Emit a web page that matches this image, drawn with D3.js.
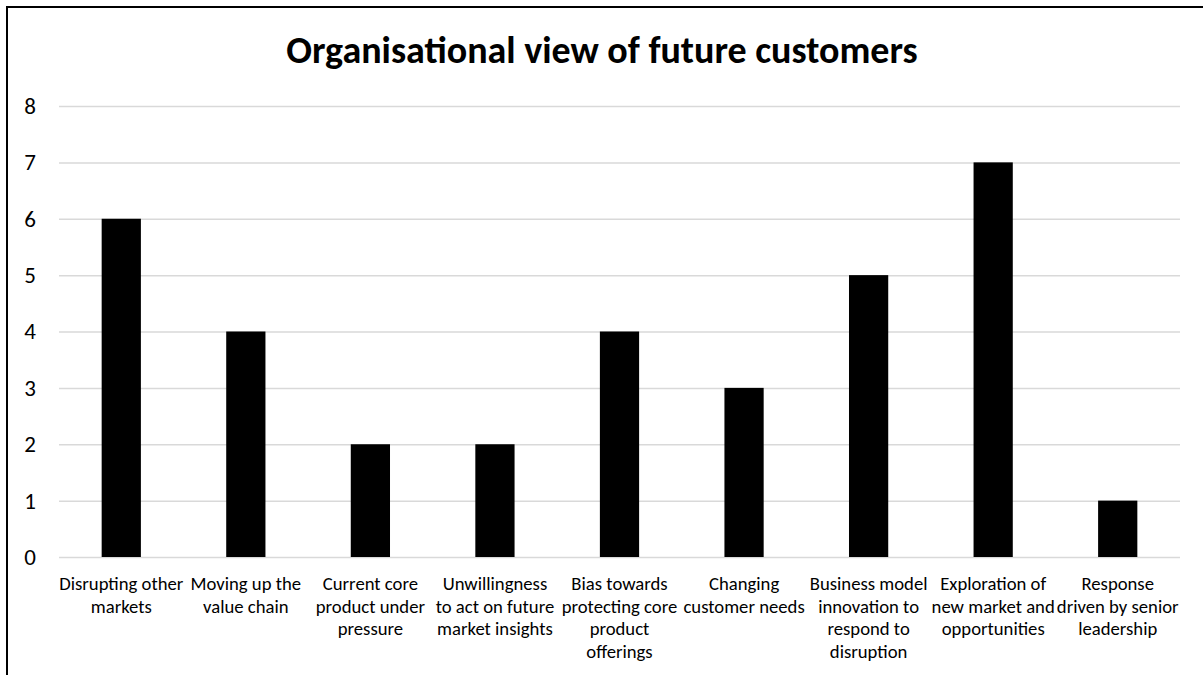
<!DOCTYPE html>
<html>
<head>
<meta charset="utf-8">
<script src="https://cdn.jsdelivr.net/npm/d3@7"></script>
<style>
  html, body { margin: 0; padding: 0; background: #fff; }
  svg { display: block; }
  text { font-family: Carlito, Calibri, Lato, sans-serif; fill: #000; }
</style>
</head>
<body>
<svg id="chart" width="1203" height="675"></svg>
<script>
// Categories (line breaks mark where each axis label wraps)
const categories = [
  "Disrupting other\nmarkets",
  "Moving up the\nvalue chain",
  "Current core\nproduct under\npressure",
  "Unwillingness\nto act on future\nmarket insights",
  "Bias towards\nprotecting core\nproduct\nofferings",
  "Changing\ncustomer needs",
  "Business model\ninnovation to\nrespond to\ndisruption",
  "Exploration of\nnew market and\nopportunities",
  "Response\ndriven by senior\nleadership"
];
const values = [6, 4, 2, 2, 4, 3, 5, 7, 1];
const yTicks = [0, 1, 2, 3, 4, 5, 6, 7, 8];
const title = "Organisational view of future customers";

const FONT = "Carlito, Calibri, Lato, sans-serif";
const svg = d3.select("#chart");
const W = 1203, H = 675;
const plot = { left: 59, right: 1180, top: 106, bottom: 557 };

// chart frame (extends past the right and bottom edges)
svg.append("rect")
  .attr("x", 7).attr("y", 7)
  .attr("width", W + 20).attr("height", H + 20)
  .attr("fill", "#fff").attr("stroke", "#000").attr("stroke-width", 2);

svg.append("text")
  .attr("x", 602).attr("y", 63)
  .attr("text-anchor", "middle")
  .attr("font-size", 38).attr("font-weight", "bold")
  .text(title);

const x = d3.scaleBand().domain(d3.range(categories.length))
  .range([plot.left, plot.right]).padding(0);
const y = d3.scaleLinear().domain([0, 8]).range([plot.bottom, plot.top]);

// gridlines + value labels
const yAxis = d3.axisLeft(y).tickValues(yTicks)
  .tickSize(-(plot.right - plot.left)).tickPadding(23);
const gy = svg.append("g").attr("transform", `translate(${plot.left},0)`).call(yAxis);
gy.select(".domain").remove();
gy.selectAll(".tick line").attr("stroke", "#d9d9d9").attr("stroke-width", 1.5);
gy.selectAll(".tick text")
  .attr("font-size", 23).attr("font-family", FONT)
  .attr("fill", "#000");

// bars
const barW = x.bandwidth() * 0.315;
svg.append("g").selectAll("rect").data(values).join("rect")
  .attr("x", (d, i) => x(i) + (x.bandwidth() - barW) / 2)
  .attr("y", d => y(d))
  .attr("width", barW)
  .attr("height", d => y(0) - y(d))
  .attr("fill", "#000");

// category labels
const xl = svg.append("g");
categories.forEach((c, i) => {
  const t = xl.append("text")
    .attr("text-anchor", "middle")
    .attr("font-size", 18.7)
    .attr("transform", `translate(${x(i) + x.bandwidth() / 2},${plot.bottom + 33})`);
  c.split("\n").forEach((line, k) => {
    t.append("tspan").attr("x", 0).attr("y", k * 22.5).text(line);
  });
});
</script>
</body>
</html>
